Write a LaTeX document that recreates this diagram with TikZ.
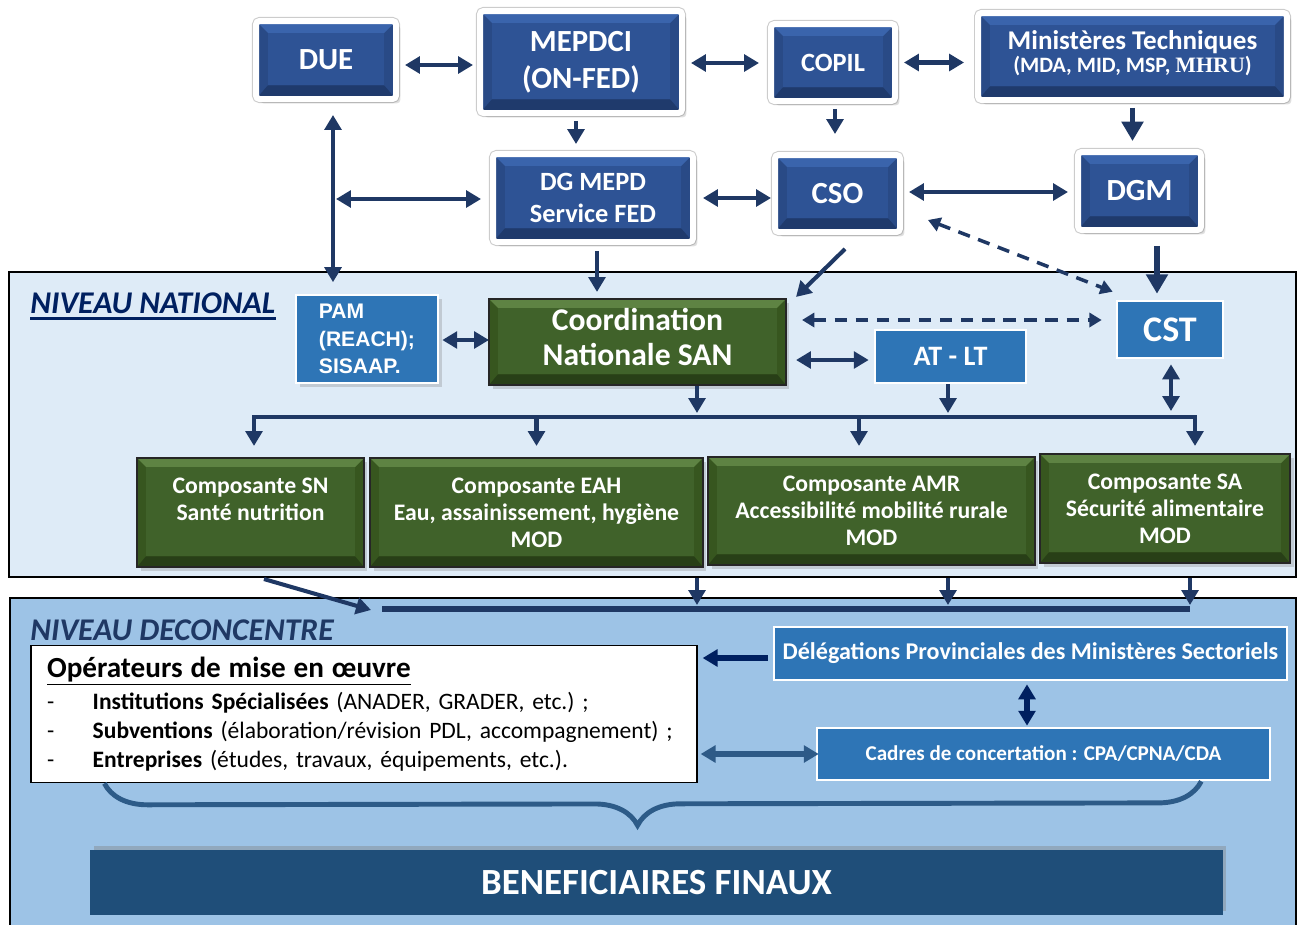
\documentclass[tikz,border=0pt]{standalone}
\usepackage{fontspec}
\setmainfont{Carlito}
\newfontfamily\arialfont{Liberation Sans}
\newfontfamily\timesfont{Liberation Serif}
\usetikzlibrary{arrows.meta,calc,shadows,decorations.pathreplacing}

\definecolor{navy}{HTML}{1F3864}
\definecolor{deepnavy}{HTML}{002060}
\definecolor{steel}{HTML}{2E5A87}
\definecolor{blueface}{HTML}{2E5395}
\definecolor{bluetop}{HTML}{3A64AC}
\definecolor{blueside}{HTML}{294A86}
\definecolor{bluebot}{HTML}{1F3A6C}
\definecolor{greenface}{HTML}{40622A}
\definecolor{greentop}{HTML}{5E8343}
\definecolor{greenside}{HTML}{37561F}
\definecolor{greenbot}{HTML}{283F17}
\definecolor{midblue}{HTML}{2E75B6}
\definecolor{natfill}{HTML}{DEEBF7}
\definecolor{decfill}{HTML}{9DC3E6}
\definecolor{benefblue}{HTML}{1F4E79}
\definecolor{bracecol}{HTML}{2D5B88}

\newcommand{\setfs}[2]{\fontsize{#1}{#2}\selectfont}
% bevelled face: top, bottom, face colour, inset, bottom inset
\newcommand{\bevel}[5]{%
  \coordinate (bnw) at (path picture bounding box.north west);
  \coordinate (bne) at (path picture bounding box.north east);
  \coordinate (bsw) at (path picture bounding box.south west);
  \coordinate (bse) at (path picture bounding box.south east);
  \fill[#1, sharp corners] (bnw) -- (bne) -- ($(bne)+(-#4,-#4)$) -- ($(bnw)+(#4,-#4)$) -- cycle;
  \fill[#2, sharp corners] (bsw) -- (bse) -- ($(bse)+(-#4,#5)$) -- ($(bsw)+(#4,#5)$) -- cycle;
  \fill[#3, sharp corners] ($(bnw)+(#4,-#4)$) rectangle ($(bse)+(-#4,#5)$);
}

\tikzstyle{topbox}=[rectangle, fill=blueside, draw=white, line width=3.4pt, rounded corners=2pt, text=white, align=center, inner sep=0pt, preaction={draw=black!20, line width=4.6pt}, drop shadow={shadow xshift=2.5pt, shadow yshift=-2.5pt, opacity=.25}, path picture={\bevel{bluetop}{bluebot}{blueface}{6.7pt}{7.7pt}}]
\tikzstyle{greenbox}=[rectangle, fill=greenside, draw=black!85, line width=1.2pt, text=white, align=center, inner sep=0pt, drop shadow={shadow xshift=2pt, shadow yshift=-2pt, opacity=.3}, path picture={\bevel{greentop}{greenbot}{greenface}{5pt}{6pt}}]
\tikzstyle{compo}=[greenbox, font=\bfseries\setfs{13.5}{15.4}]
\tikzstyle{midbox}=[rectangle, fill=midblue, draw=white, line width=1.5pt, text=white, align=center, inner sep=0pt]
\tikzstyle{zone}=[rectangle, draw=black, line width=1pt, inner sep=0pt]
\tikzstyle{zonetitle}=[anchor=west, text=deepnavy, font=\bfseries\itshape\setfs{18}{20}, inner sep=0pt]
\tikzstyle{arr}=[navy, line width=2.3pt, -{Triangle[length=8.5pt,width=9.5pt]}]
\tikzstyle{darr}=[arr, {Triangle[length=8.5pt,width=9.5pt]}-{Triangle[length=8.5pt,width=9.5pt]}]
\tikzstyle{bigarr}=[navy, line width=3pt, -{Triangle[length=11pt,width=12pt]}]
\tikzstyle{dasharr}=[navy, line width=2pt, dash pattern=on 7pt off 5pt, {Triangle[length=7pt,width=8pt]}-{Triangle[length=7pt,width=8pt]}]
\tikzstyle{busline}=[navy, line width=2.8pt]

\begin{document}
\begin{tikzpicture}[x=0.02cm, y=-0.02cm]
	\useasboundingbox (0,0) rectangle (1302,924);

	% the two levels
	\node[zone, fill=natfill, minimum width=25.74cm, minimum height=6.1cm] (natl) at (652.5,424.5) {};
	\node[zone, fill=decfill, minimum width=25.72cm, minimum height=6.84cm] (deconc) at (653,769) {};
	\node[zonetitle] (natlabel) at (30,303) {NIVEAU NATIONAL};
	\draw[deepnavy, line width=1.6pt] ([yshift=-2.8pt]natlabel.south west) -- ([yshift=-2.8pt]natlabel.south east);
	\node[zonetitle, text=navy] (declabel) at (30,630) {NIVEAU DECONCENTRE};

	% top boxes
	\node[topbox, minimum width=2.8cm, minimum height=1.56cm, font=\bfseries\setfs{17.5}{20}] (due) at (326,60) {DUE};
	\node[topbox, minimum width=4.04cm, minimum height=2.04cm, font=\bfseries\setfs{17.5}{21}] (mepdci) at (581,62) {MEPDCI\\(ON-FED)};
	\node[topbox, minimum width=2.48cm, minimum height=1.54cm, font=\bfseries\setfs{15}{18}] (copil) at (833,62.5) {COPIL};
	\node[topbox, minimum width=6.18cm, minimum height=1.74cm, font=\bfseries\setfs{15.4}{13}, text depth=6pt] (mintech) at (1132.5,56.5) {Ministères Techniques\\{\setfs{12.5}{13}(MDA, MID, MSP, {\timesfont MHRU})}};
	\node[topbox, minimum width=4.0cm, minimum height=1.76cm, font=\bfseries\setfs{15}{18}] (dgmepd) at (593,198) {DG MEPD\\Service FED};
	\node[topbox, minimum width=2.5cm, minimum height=1.54cm, font=\bfseries\setfs{17.5}{20}] (cso) at (837.5,193.5) {CSO};
	\node[topbox, minimum width=2.46cm, minimum height=1.56cm, font=\bfseries\setfs{17.5}{20}] (dgm) at (1139.5,191) {DGM};

	% national level
	\node[midbox, minimum width=2.84cm, minimum height=1.76cm, align=left, font=\arialfont\bfseries\setfs{12}{15.5}, drop shadow={shadow xshift=2pt, shadow yshift=-2pt, opacity=.3}] (pam) at (367,339) {PAM\\(REACH);\\SISAAP.};
	\node[greenbox, minimum width=5.94cm, minimum height=1.72cm, font=\bfseries\setfs{18}{20}, text depth=5.6pt] (coord) at (637.5,342) {Coordination\\Nationale SAN};
	\node[midbox, minimum width=3.02cm, minimum height=1.06cm, font=\bfseries\setfs{16}{18}] (atlt) at (950.5,356.5) {AT - LT};
	\node[midbox, minimum width=2.12cm, minimum height=1.14cm, font=\bfseries\setfs{20.5}{22}] (cst) at (1170,329.5) {CST};

	\node[compo, minimum width=4.54cm, minimum height=2.18cm] (sn) at (250.5,512.5) {Composante SN\\Santé nutrition\\\phantom{MOD}};
	\node[compo, minimum width=6.66cm, minimum height=2.18cm] (eah) at (536.5,512.5) {Composante EAH\\Eau, assainissement, hygiène\\MOD};
	\node[compo, minimum width=6.54cm, minimum height=2.16cm] (amr) at (871.5,511) {Composante AMR\\Accessibilité mobilité rurale\\MOD};
	\node[compo, minimum width=5.0cm, minimum height=2.18cm] (sa) at (1165,508.5) {Composante SA\\Sécurité alimentaire\\MOD};

	% deconcentrated level
	\node[draw=black, line width=1pt, fill=white, text=black, minimum height=2.74cm, text width=12.68cm, inner xsep=9pt, align=left, font=\frenchspacing\setfs{13.4}{16.3}] (oper) at (364,714) {{\setfs{16.6}{18}\underline{\textbf{Opérateurs de mise en œuvre}}}\\[2pt]
		\makebox[26pt][l]{-}\textbf{Institutions Spécialisées} (ANADER, GRADER, etc.) ;\\
		\makebox[26pt][l]{-}\textbf{Subventions} (élaboration/révision PDL, accompagnement) ;\\
		\makebox[26pt][l]{-}\textbf{Entreprises} (études, travaux, équipements, etc.).};
	\node[midbox, minimum width=10.26cm, minimum height=1.06cm, font=\bfseries\setfs{13.7}{15}] (deleg) at (1030.5,653.5) {Délégations Provinciales des Ministères Sectoriels};
	\node[midbox, minimum width=9.06cm, minimum height=1.04cm, font=\bfseries\setfs{12}{14}] (cadres) at (1043.5,754) {Cadres de concertation : CPA/CPNA/CDA};
	\node[rectangle, fill=benefblue, text=white, font=\bfseries\setfs{21}{22}, minimum width=22.66cm, minimum height=1.3cm, drop shadow={shadow xshift=2pt, shadow yshift=2.5pt, opacity=.4}] (benef) at (656.5,882.5) {BENEFICIAIRES FINAUX};

	% top links
	\draw[darr] ($(due.east)+(6,5)$) -- ($(due.east -| mepdci.west)+(-4,5)$);
	\draw[darr] ($(mepdci.east)+(6,1)$) -- ($(mepdci.east -| copil.west)+(-9,1)$);
	\draw[darr] ($(copil.east)+(6,0)$) -- ($(copil.east -| mintech.west)+(-11,0)$);
	\draw[arr] ($(mepdci.south)+(-5,5)$) -- ($(mepdci.south |- dgmepd.north)+(-5,-7)$);
	\draw[arr] ($(copil.south)+(2,5)$) -- ($(copil.south |- cso.north)+(2,-18)$);
	\draw[bigarr] ($(mintech.south)+(0,5)$) -- ($(mintech.south |- dgm.north)+(0,-8)$);
	\draw[darr] ($(due.south)+(7,13)$) -- ($(due.south |- natl.north)+(7,11)$);
	\draw[darr] ($(dgmepd.west -| due.south)+(10,1)$) -- ($(dgmepd.west)+(-9,1)$);
	\draw[darr] ($(dgmepd.east)+(7,0)$) -- ($(dgmepd.east -| cso.west)+(-1,0)$);
	\draw[darr] ($(cso.east)+(6,-1.5)$) -- ($(cso.east -| dgm.west)+(-7,-1.5)$);
	\draw[arr] ($(dgmepd.south)+(4,6)$) -- ($(dgmepd.south |- coord.north)+(4,-6)$);
	\draw[arr] ($(cso.south)+(7.5,14)$) -- ($(coord.north east)+(9,-1)$);
	\draw[dasharr] ($(cso.south east)+(25,-15)$) -- ($(cst.north west)+(-3,-8)$);
	\draw[bigarr] ($(dgm.south)+(17.5,13)$) -- ($(dgm.south |- cst.north)+(17.5,-6)$);

	% national links
	\coordinate (busl) at (254,417);
	\coordinate (bus2l) at (382,609);
	\coordinate (bus2r) at (1190,609);
	\draw[darr] ($(pam.east)+(3,1)$) -- ($(pam.east -| coord.west)+(1,1)$);
	\draw[dasharr] ($(coord.east)+(15,-22)$) -- ($(coord.east -| cst.west)+(-14,-22)$);
	\draw[darr] ($(coord.east)+(9,18)$) -- ($(coord.east -| atlt.west)+(-5,18)$);
	\draw[darr] ($(cst.south)+(1,5)$) -- ($(cst.south |- busl)+(1,-6)$);
	\draw[arr] ($(coord.south)+(59.5,0)$) -- ($(coord.south |- busl)+(59.5,-4)$);
	\draw[arr] ($(atlt.south)+(-2.5,0)$) -- ($(atlt.south |- busl)+(-2.5,-4)$);
	\draw[arr, line width=2.6pt] ($(atlt.south |- busl)+(-2.5,0)$) -| ($(sn.north)+(3.5,-11)$);
	\draw[arr, line width=2.6pt] ($(atlt.south |- busl)+(-2.5,0)$) -| ($(sa.north)+(30,-7)$);
	\draw[arr] (eah.north |- busl) -- ($(eah.north)+(0,-11)$);
	\draw[arr] ($(amr.north |- busl)+(-12.5,0)$) -- ($(amr.north)+(-12.5,-10)$);

	% down to the deconcentrated level
	\draw[arr] ($(sn.south)+(13.5,11)$) -- ($(bus2l)+(-11,1)$);
	\draw[busline, line width=3pt] (bus2l) -- (bus2r);
	\foreach \bx in {697,948,1190}
		\draw[arr] (\bx,0 |- natl.south) -- ($(\bx,0 |- bus2l)+(0,-4)$);

	% deconcentrated links
	\draw[arr, deepnavy, line width=3pt] ($(deleg.west)+(-5,4.5)$) -- ($(deleg.west -| oper.east)+(5,4.5)$);
	\draw[darr, deepnavy, line width=3pt] ($(deleg.south)+(-3.5,3)$) -- ($(deleg.south |- cadres.north)+(-3.5,-1)$);
	\draw[darr, steel, line width=3pt] ($(oper.east |- cadres.west)+(3,0)$) -- ($(cadres.west)+(3,0)$);
	\draw[bracecol, line width=2.8pt, decorate, decoration={brace, amplitude=0.86cm, aspect=0.514}] ($(cadres.south east)+(-70,0)$) -- ($(oper.south west)+(74,0)$);

\end{tikzpicture}
\end{document}
